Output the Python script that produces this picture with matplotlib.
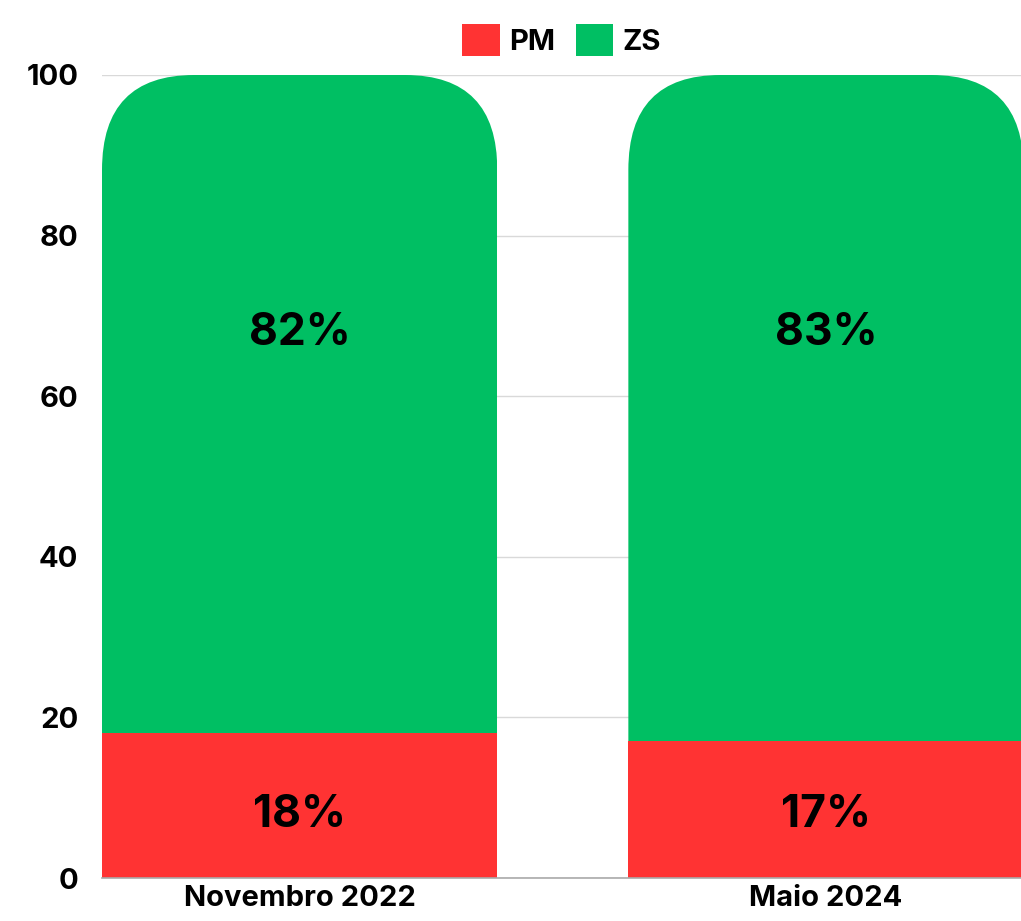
import matplotlib
matplotlib.use('Agg')
import matplotlib.pyplot as plt
from matplotlib.patches import FancyBboxPatch

plt.rcParams['font.family'] = ['Inter', 'DejaVu Sans']
plt.rcParams['font.weight'] = 'bold'

# dados
categorias = ['Novembro 2022', 'Maio 2024']
pm = [18, 17]
zs = [82, 83]
cor_pm = '#FF3333'
cor_zs = '#00BF63'

fig = plt.figure(figsize=(10.21, 9.21), dpi=100)
ax = fig.add_axes([102 / 1021, 43 / 921, 1 - 102 / 1021, 803 / 921])

x = list(range(len(categorias)))
largura = 0.751

barras_pm = ax.bar(x, pm, width=largura, color=cor_pm, label='PM', zorder=2)
barras_zs = ax.bar(x, zs, width=largura, bottom=pm, color=cor_zs, label='ZS', zorder=2)

ax.set_xlim(-largura / 2, 1.3705)
ax.set_ylim(0, 100)

# cantos arredondados no topo das barras verdes
raio_x = 0.175
raio_y = 11.8
for b in barras_zs:
    x0 = b.get_x()
    w = b.get_width()
    topo = b.get_y() + b.get_height()
    clip = FancyBboxPatch((x0, -50), w, topo + 50,
                          boxstyle=f'round,pad=0,rounding_size={raio_x}',
                          mutation_aspect=raio_y / raio_x,
                          transform=ax.transData)
    b.set_clip_path(clip)

# rótulos (linha de base)
for i in x:
    ax.text(i, 6.35, f'{pm[i]}%', ha='center', va='baseline',
            fontsize=32, fontweight='bold', color='black', zorder=3)
    ax.text(i, 66.4, f'{zs[i]}%', ha='center', va='baseline',
            fontsize=32, fontweight='bold', color='black', zorder=3)

ax.set_xticks(x)
ax.set_xticklabels(categorias, fontsize=21, fontweight='bold')
ax.set_yticks([0, 20, 40, 60, 80, 100])
ax.set_yticklabels(['0', '20', '40', '60', '80', '100'], fontsize=21, fontweight='bold')
ax.tick_params(axis='y', length=0, pad=17)
ax.tick_params(axis='x', length=0, pad=5)

ax.yaxis.grid(True, color='#d9d9d9', linewidth=1, zorder=0)
ax.set_axisbelow(True)
for lado in ['left', 'right', 'top']:
    ax.spines[lado].set_visible(False)
ax.spines['bottom'].set_color('#aaaaaa')
ax.spines['bottom'].set_linewidth(1.2)

leg = ax.legend(loc='lower center', bbox_to_anchor=(0.5, 1.0), ncol=2, frameon=False,
                fontsize=21, handlelength=1.3, handleheight=1.3,
                handletextpad=0.3, columnspacing=0.7, borderaxespad=0.25)
for t in leg.get_texts():
    t.set_fontweight('bold')

fig.savefig('out.png', dpi=100)
